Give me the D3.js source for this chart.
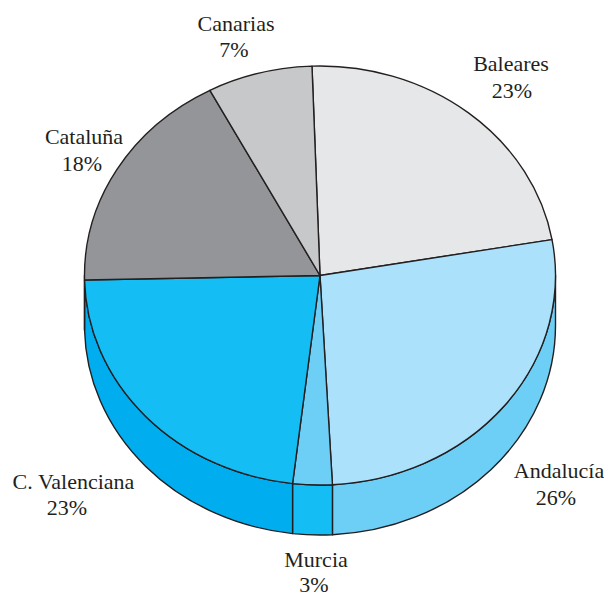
<!DOCTYPE html>
<html>
<head>
<meta charset="utf-8">
<script src="https://cdn.jsdelivr.net/npm/d3@7"></script>
<style>
  html, body { margin: 0; padding: 0; background: #fff; overflow: hidden; }
  text { font-family: "Liberation Serif", serif; font-size: 22px; fill: #231f20; text-anchor: middle; }
</style>
</head>
<body>
<svg id="chart" width="604" height="593"></svg>
<script>
  const regions = ["Baleares", "Andalucía", "Murcia", "C. Valenciana", "Cataluña", "Canarias"];
  const percentLabels = ["23%", "26%", "3%", "23%", "18%", "7%"];
  // slice sizes as they are drawn in the picture, slightly off the printed numbers
  const drawnShares = [22.8, 26.9, 2.7, 22.8, 17.6, 7.2];

  const topColors = ["#e6e7e8", "#abe1fa", "#6dcff6", "#14bef4", "#939598", "#c7c8ca"];
  const sideColors = ["#c7c8ca", "#6dcff6", "#14bef4", "#00aeef", "#939598", "#c7c8ca"];
  const nameAnchors = [[511, 71], [559, 478], [316, 567], [73.5, 489], [84, 144], [236, 31]];
  const percentAnchors = [[512, 98], [556, 505], [314, 592], [67, 515], [82, 171], [234, 57]];

  const cx = 320, cy = 275.5, rx = 235.5, ry = 209.5, depth = 50;
  const startDeg = -1.95;

  const svg = d3.select("#chart");
  const x = d3.scaleLinear().domain([-1, 1]).range([cx - rx, cx + rx]);
  const y = d3.scaleLinear().domain([-1, 1]).range([cy - ry, cy + ry]);
  const topColor = d3.scaleOrdinal().domain(regions).range(topColors);
  const sideColor = d3.scaleOrdinal().domain(regions).range(sideColors);

  const start = startDeg * Math.PI / 180;
  const pie = d3.pie()
    .sort(null)
    .value((d, i) => drawnShares[i])
    .startAngle(start)
    .endAngle(start + 2 * Math.PI);
  const slices = pie(regions);

  const px = a => x(Math.sin(a));
  const py = (a, drop) => y(-Math.cos(a)) + (drop || 0);

  function rimTo(a1, a0, drop) {
    const large = Math.abs(a1 - a0) > Math.PI ? 1 : 0;
    const sweep = a1 > a0 ? 1 : 0;
    return `A${rx},${ry} 0 ${large} ${sweep} ${px(a1)},${py(a1, drop)}`;
  }

  //side wall of each slice, only the part facing the viewer
  const sides = slices.map(d => {
    const a0 = Math.max(d.startAngle, Math.PI / 2);
    const a1 = Math.min(d.endAngle, 3 * Math.PI / 2);
    return { data: d.data, a0, a1 };
  }).filter(d => d.a1 > d.a0);

  svg.selectAll("path.side")
    .data(sides)
    .enter()
    .append("path")
      .attr("class", "side")
      .attr("d", d => `M${px(d.a0)},${py(d.a0)}L${px(d.a0)},${py(d.a0, depth)}`
        + rimTo(d.a1, d.a0, depth)
        + `L${px(d.a1)},${py(d.a1)}`
        + rimTo(d.a0, d.a1) + "Z")
      .attr("fill", d => sideColor(d.data))
      .attr("stroke", "#231f20")
      .attr("stroke-width", 1.4)
      .attr("stroke-linejoin", "round");

  //top face
  svg.selectAll("path.slice")
    .data(slices)
    .enter()
    .append("path")
      .attr("class", "slice")
      .attr("d", d => `M${cx},${cy}L${px(d.startAngle)},${py(d.startAngle)}`
        + rimTo(d.endAngle, d.startAngle) + "Z")
      .attr("fill", d => topColor(d.data))
      .attr("stroke", "#231f20")
      .attr("stroke-width", 1.4)
      .attr("stroke-linejoin", "round");

  //labels
  svg.selectAll("text.name")
    .data(regions)
    .enter()
    .append("text")
      .attr("class", "name")
      .attr("x", (d, i) => nameAnchors[i][0])
      .attr("y", (d, i) => nameAnchors[i][1])
      .text(d => d);

  svg.selectAll("text.percent")
    .data(percentLabels)
    .enter()
    .append("text")
      .attr("class", "percent")
      .attr("x", (d, i) => percentAnchors[i][0])
      .attr("y", (d, i) => percentAnchors[i][1])
      .text(d => d);
</script>
</body>
</html>
